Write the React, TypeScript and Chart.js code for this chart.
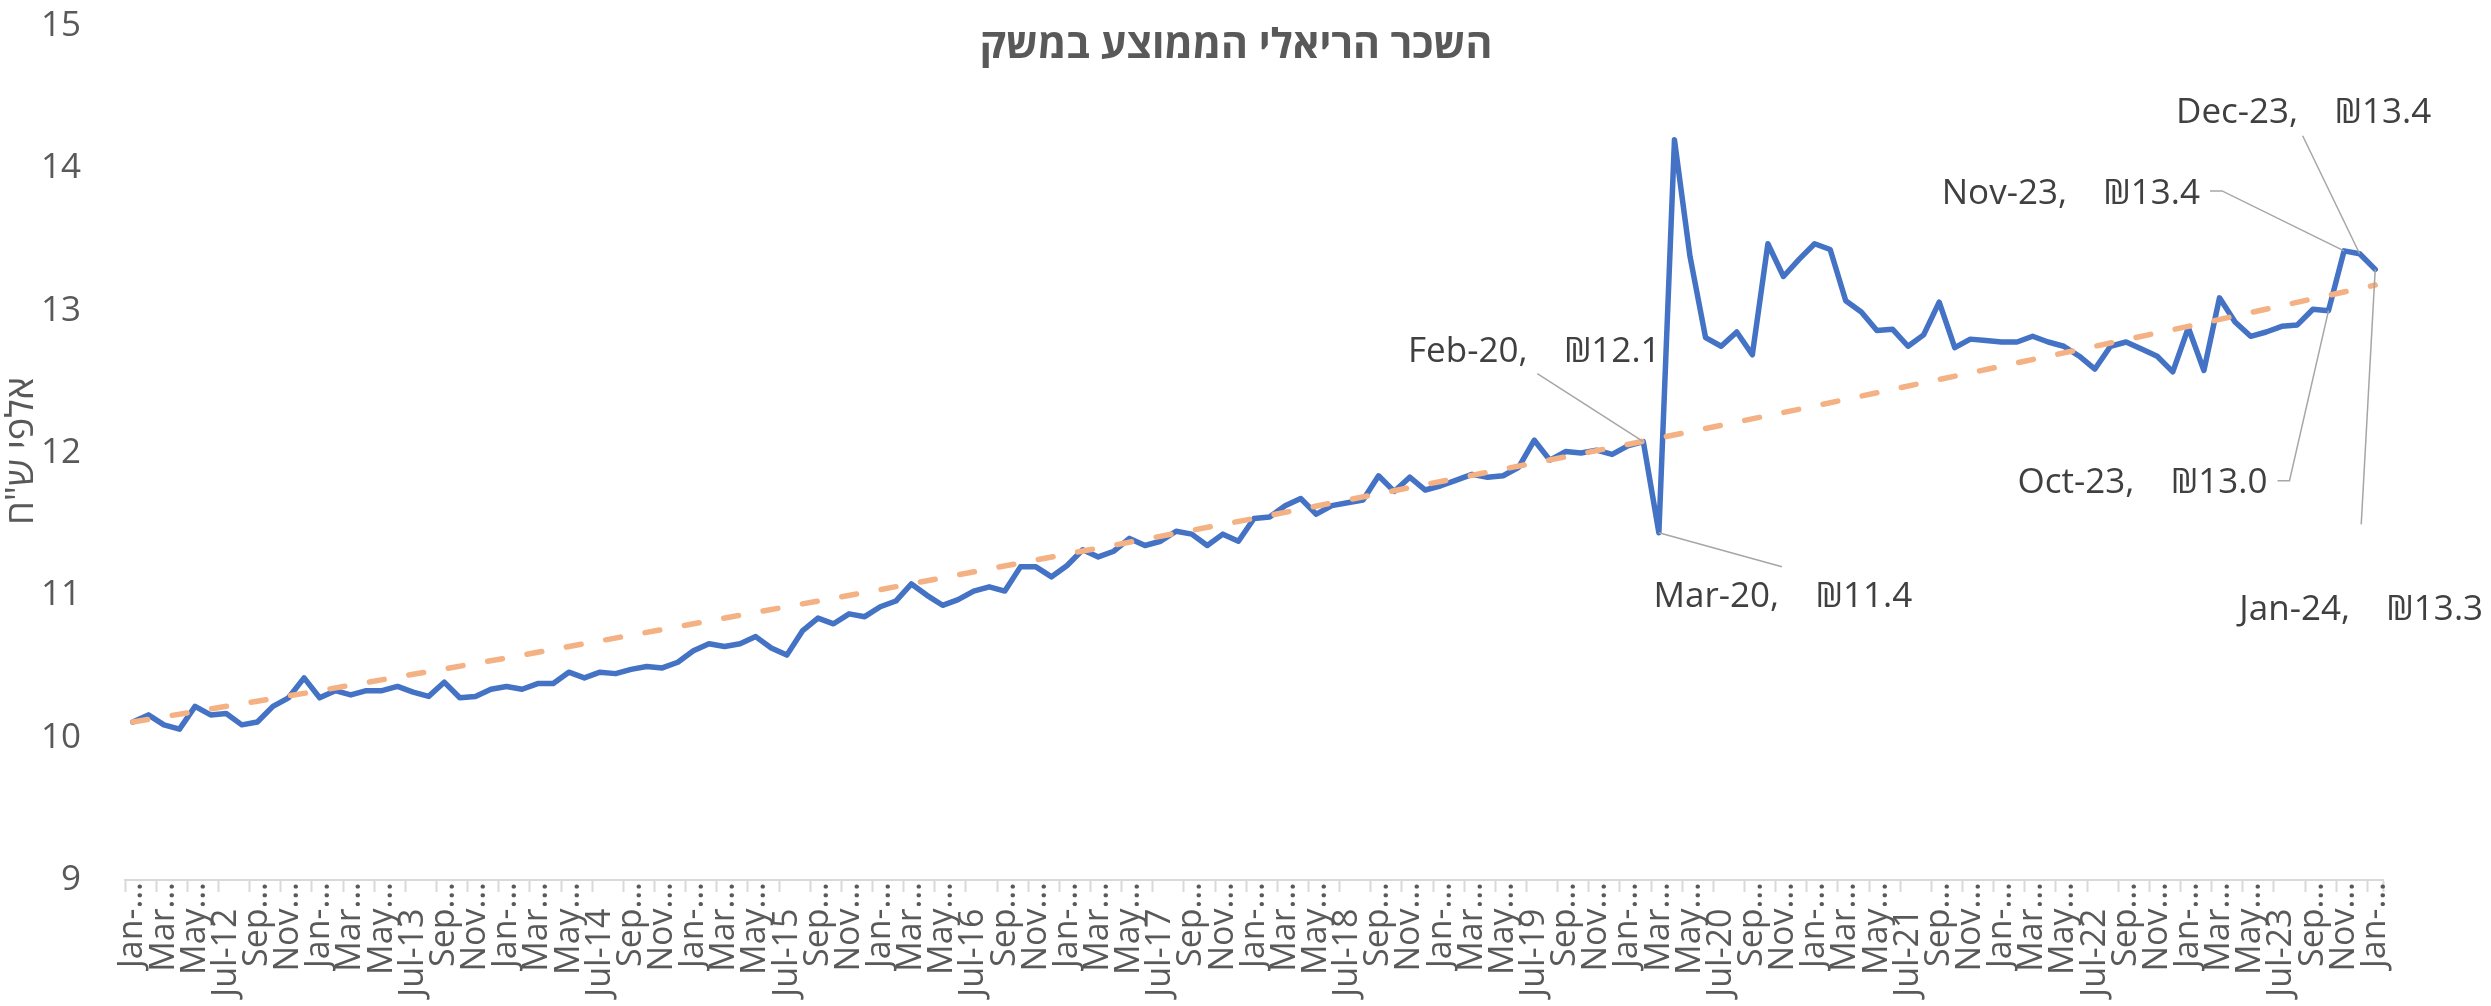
import React, { useEffect, useRef } from 'react';
import { Chart, registerables } from 'chart.js';

Chart.register(...registerables);

const FONT = "'Open Sans', 'DejaVu Sans', sans-serif";

const TITLE = 'השכר הריאלי הממוצע במשק';
const Y_TITLE = 'אלפי ש"ח';

const MONTH_NAMES = ['Jan', 'Feb', 'Mar', 'Apr', 'May', 'Jun', 'Jul', 'Aug', 'Sep', 'Oct', 'Nov', 'Dec'];
const YEARS = ['12', '13', '14', '15', '16', '17', '18', '19', '20', '21', '22', '23', '24'];

// Jan-12 ... Jan-24 (145 months)
const categories: string[] = [];
for (const y of YEARS) {
  for (const m of MONTH_NAMES) {
    if (categories.length < 145) categories.push(`${m}-${y}`);
  }
}

// Displayed (truncated) x tick labels, every 2nd month
const xTickLabels: string[] = categories.map((c, i) => {
  if (i % 2 !== 0) return '';
  const m = c.slice(0, 3);
  if (m === 'Jul') return c + '   ';
  if (m === 'Jan') return 'Jan-…';
  return m + '…';
});

// Real average wage, thousands NIS
const wages: number[] = [
  10.11, 10.16, 10.09, 10.06, 10.22, 10.16, 10.17, 10.09, 10.11, 10.22, 10.28, 10.42,
  10.28, 10.33, 10.30, 10.33, 10.33, 10.36, 10.32, 10.29, 10.39, 10.28, 10.29, 10.34,
  10.36, 10.34, 10.38, 10.38, 10.46, 10.42, 10.46, 10.45, 10.48, 10.50, 10.49, 10.53,
  10.61, 10.66, 10.64, 10.66, 10.71, 10.63, 10.58, 10.75, 10.84, 10.80, 10.87, 10.85,
  10.92, 10.96, 11.08, 11.00, 10.93, 10.97, 11.03, 11.06, 11.03, 11.20, 11.20, 11.13,
  11.21, 11.32, 11.27, 11.31, 11.40, 11.35, 11.38, 11.45, 11.43, 11.35, 11.43, 11.38,
  11.54, 11.55, 11.63, 11.68, 11.57, 11.63, 11.65, 11.67, 11.84, 11.73, 11.83, 11.74,
  11.77, 11.81, 11.85, 11.83, 11.84, 11.90, 12.09, 11.95, 12.01, 12.00, 12.02, 11.99,
  12.05, 12.08, 11.44, 14.20, 13.38, 12.81, 12.75, 12.85, 12.69, 13.47, 13.24, 13.36,
  13.47, 13.43, 13.07, 12.99, 12.86, 12.87, 12.75, 12.83, 13.06, 12.74, 12.80, 12.79,
  12.78, 12.78, 12.82, 12.78, 12.75, 12.68, 12.59, 12.75, 12.78, 12.73, 12.68, 12.57,
  12.88, 12.58, 13.09, 12.92, 12.82, 12.85, 12.89, 12.90, 13.01, 13.00, 13.42, 13.40,
  13.29,
];

// Trend line read at each January
const trendMonths: string[] = ['Jan-12', 'Jan-13', 'Jan-14', 'Jan-15', 'Jan-16', 'Jan-17', 'Jan-18', 'Jan-19', 'Jan-20', 'Jan-21', 'Jan-22', 'Jan-23', 'Jan-24'];
const trendValues: number[] = [10.11, 10.33, 10.56, 10.80, 11.04, 11.29, 11.54, 11.80, 12.06, 12.33, 12.61, 12.89, 13.18];

const trendSeries: (number | null)[] = categories.map((c) => {
  const k = trendMonths.indexOf(c);
  return k >= 0 ? trendValues[k] : null;
});

// Labelled points
const annotatedMonths: string[] = ['Feb-20', 'Mar-20', 'Oct-23', 'Nov-23', 'Dec-23', 'Jan-24'];

// Label placement (relative to point): text anchor + leader path
const annotationLayout: Record<string, { tx: number; ty: number; align: CanvasTextAlign; leader: [number, number][] }> = {
  'Feb-20': { tx: -109, ty: -80, align: 'center', leader: [[-106, -68]] },
  'Mar-20': { tx: 124, ty: 74, align: 'center', leader: [[123, 34]] },
  'Oct-23': { tx: -61, ty: 182, align: 'right', leader: [[-51, 170], [-39, 170]] },
  'Nov-23': { tx: -144, ty: -47, align: 'right', leader: [[-134, -60], [-122, -60]] },
  'Dec-23': { tx: -56, ty: -131, align: 'center', leader: [[-57, -118]] },
  'Jan-24': { tx: -14, ty: 351, align: 'center', leader: [[-14, 255]] },
};

const overlayPlugin = {
  id: 'overlay',
  afterDraw(chart: any) {
    const ctx: CanvasRenderingContext2D = chart.ctx;
    ctx.save();
    // Title
    ctx.fillStyle = '#595959';
    ctx.font = `bold 41px ${FONT}`;
    ctx.textAlign = 'center';
    ctx.textBaseline = 'middle';
    ctx.fillText(TITLE, 1236, 46);

    // Y axis title
    ctx.save();
    ctx.translate(22, 451);
    ctx.rotate(-Math.PI / 2);
    ctx.font = `38px ${FONT}`;
    ctx.fillText(Y_TITLE, 0, 0);
    ctx.restore();

    // Data labels with leader lines
    const meta = chart.getDatasetMeta(1);
    ctx.font = `35px ${FONT}`;
    ctx.textBaseline = 'alphabetic';
    for (const m of annotatedMonths) {
      const idx = categories.indexOf(m);
      const pt = meta.data[idx];
      if (!pt) continue;
      const lay = annotationLayout[m];
      const px = pt.x;
      const py = pt.y;
      ctx.strokeStyle = '#A6A6A6';
      ctx.lineWidth = 1.5;
      ctx.beginPath();
      ctx.moveTo(px + lay.leader[0][0], py + lay.leader[0][1]);
      for (let k = 1; k < lay.leader.length; k++) ctx.lineTo(px + lay.leader[k][0], py + lay.leader[k][1]);
      ctx.lineTo(px, py);
      ctx.stroke();
      ctx.fillStyle = '#404040';
      ctx.textAlign = lay.align;
      ctx.fillText(`${m},    ₪${wages[idx].toFixed(1)}`, px + lay.tx, py + lay.ty);
    }
    ctx.restore();
  },
};

export default function App() {
  const canvasRef = useRef<HTMLCanvasElement | null>(null);

  useEffect(() => {
    document.body.style.margin = '0';
    const canvas = canvasRef.current;
    if (!canvas) return;
    const chart = new Chart(canvas, {
      type: 'line',
      data: {
        labels: categories,
        datasets: [
          {
            label: 'trend',
            data: trendSeries,
            borderColor: '#F4B183',
            borderWidth: 5.5,
            borderDash: [15, 25],
            borderCapStyle: 'round',
            pointRadius: 0,
            spanGaps: true,
            tension: 0,
            fill: false,
          },
          {
            label: 'wage',
            data: wages,
            borderColor: '#4472C4',
            borderWidth: 5.5,
            borderJoinStyle: 'round',
            borderCapStyle: 'round',
            pointRadius: 0,
            tension: 0,
            fill: false,
          },
        ],
      },
      options: {
        responsive: false,
        animation: false,
        devicePixelRatio: 1,
        layout: { padding: { top: 26, right: 108, left: 0, bottom: 0 } },
        plugins: {
          legend: { display: false },
          title: { display: false },
          tooltip: { enabled: false },
        },
        scales: {
          x: {
            type: 'category',
            offset: true,
            afterFit: (scale: any) => {
              scale.height = 126;
              scale.paddingLeft = 0;
              scale.paddingRight = 0;
            },
            grid: {
              display: true,
              drawOnChartArea: false,
              drawTicks: true,
              tickLength: 12,
              offset: true,
              tickWidth: 2,
              tickColor: (c: any) => (c.index === undefined || c.index % 2 === 0 ? '#D9D9D9' : 'rgba(0,0,0,0)'),
            },
            border: { display: true, color: '#D9D9D9', width: 2 },
            ticks: {
              autoSkip: false,
              maxRotation: 90,
              minRotation: 90,
              padding: -10,
              color: '#595959',
              font: { size: 34, family: FONT },
              callback: (_v: any, i: number) => xTickLabels[i],
            },
          },
          y: {
            min: 9,
            max: 15,
            afterFit: (scale: any) => {
              scale.width = 125;
              scale.paddingTop = 0;
              scale.paddingBottom = 0;
            },
            grid: { display: false },
            border: { display: false },
            ticks: {
              stepSize: 1,
              padding: 36,
              color: '#595959',
              font: { size: 35, family: FONT },
            },
          },
        },
      },
      plugins: [overlayPlugin],
    });
    return () => chart.destroy();
  }, []);

  return <canvas ref={canvasRef} width={2491} height={1006} style={{ display: 'block' }} />;
}
